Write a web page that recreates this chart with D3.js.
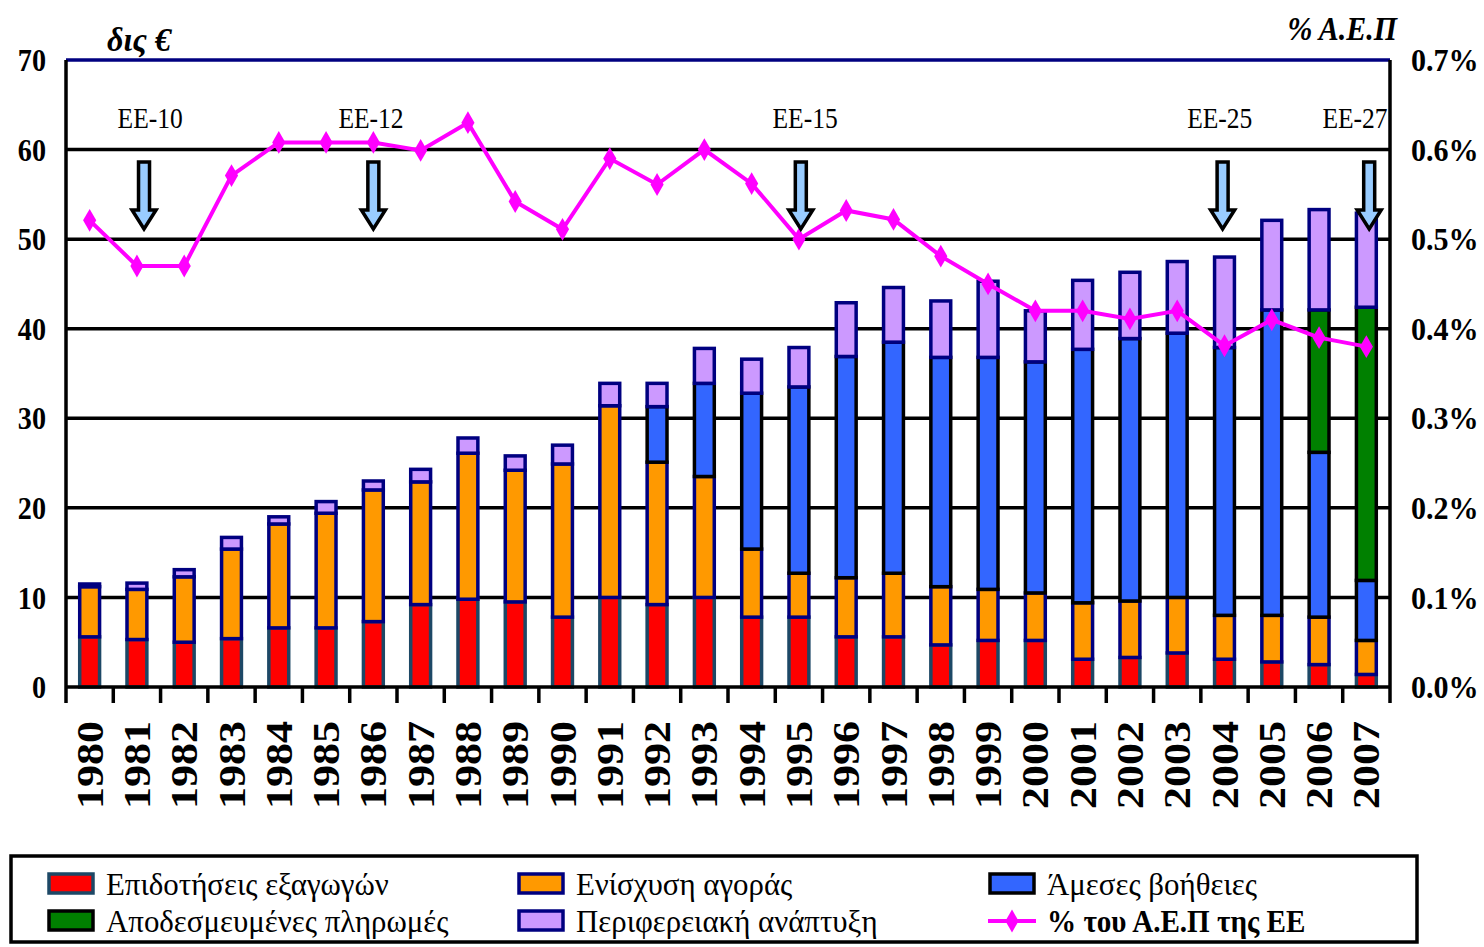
<!DOCTYPE html>
<html><head><meta charset="utf-8">
<script src="https://cdn.jsdelivr.net/npm/d3@7"></script>
<style>
html,body{margin:0;padding:0;background:#fff;}
svg{display:block;font-family:"Liberation Serif","Times New Roman",serif;}
</style></head>
<body>
<svg id="c" width="1484" height="947"></svg>
<script>
// ---- data ----
const years = ["1980","1981","1982","1983","1984","1985","1986","1987","1988","1989","1990","1991","1992","1993","1994","1995","1996","1997","1998","1999","2000","2001","2002","2003","2004","2005","2006","2007"];
const exportSubsidies = [5.6,5.3,5.0,5.4,6.6,6.6,7.3,9.2,9.8,9.5,7.8,10.0,9.2,10.0,7.8,7.8,5.6,5.6,4.7,5.2,5.2,3.1,3.3,3.8,3.1,2.8,2.5,1.4];
const marketSupport   = [5.6,5.6,7.3,10.0,11.6,12.8,14.7,13.7,16.3,14.7,17.1,21.4,15.9,13.5,7.6,4.9,6.6,7.1,6.5,5.7,5.3,6.3,6.3,6.2,4.9,5.2,5.3,3.8];
const directAid       = [0,0,0,0,0,0,0,0,0,0,0,0,6.2,10.4,17.4,20.8,24.7,25.8,25.6,25.9,25.8,28.3,29.3,29.5,29.9,34.1,18.4,6.7];
const decoupled       = [0,0,0,0,0,0,0,0,0,0,0,0,0,0,0,0,0,0,0,0,0,0,0,0,0,0,15.9,30.5];
const ruralDev        = [0.3,0.7,0.8,1.3,0.8,1.3,1.0,1.4,1.7,1.6,2.1,2.5,2.6,3.9,3.8,4.4,6.0,6.1,6.3,8.5,5.7,7.7,7.4,8.0,10.1,10.0,11.2,10.5];
const gdpShare        = [0.521,0.470,0.470,0.571,0.608,0.608,0.608,0.599,0.630,0.542,0.511,0.590,0.561,0.600,0.562,0.500,0.532,0.522,0.481,0.450,0.420,0.420,0.411,0.420,0.381,0.410,0.390,0.380];
const leftTicks  = [0,10,20,30,40,50,60,70];
const rightTicks = ["0.0%","0.1%","0.2%","0.3%","0.4%","0.5%","0.6%","0.7%"];
const enlargementLabels = ["ΕΕ-10","ΕΕ-12","ΕΕ-15","ΕΕ-25","ΕΕ-27"];
const enlargementYears  = ["1981","1986","1995","2004","2007"];
const seriesNames = ["Επιδοτήσεις εξαγωγών","Ενίσχυση αγοράς","Άμεσες βοήθειες","Αποδεσμευμένες πληρωμές","Περιφερειακή ανάπτυξη"];
const lineName = "% του Α.Ε.Π της ΕΕ";

// ---- styles / layout ----
const fills   = ["#FF0000","#FF9900","#3366FF","#008000","#CC99FF"];
const strokes = ["#1d4866","#000080","#000000","#000000","#000080"];
const arrowShift = [0.15,0.0,0.04,-0.04,0.06];
const labelShift = [0.28,-0.05,0.13,-0.10,-0.24];
const SX = 0.85;

const svg = d3.select("#c");
const L = 66, R = 1390, T = 60, B = 687;
const x = d3.scaleBand().domain(years).range([L,R]).paddingInner(0.58).paddingOuter(0.29);
const y = d3.scaleLinear().domain([0,70]).range([B,T]);
const y2 = d3.scaleLinear().domain([0,0.7]).range([B,T]);
const step = x.step();
const cx = d => x(d) + x.bandwidth()/2;

// gridlines
svg.append("g").selectAll("line").data(leftTicks.filter(t=>t>0 && t<70)).join("line")
  .attr("x1",L).attr("x2",R).attr("y1",d=>y(d)).attr("y2",d=>y(d))
  .attr("stroke","#000").attr("stroke-width",3.5);
svg.append("line").attr("x1",L).attr("x2",R).attr("y1",y(70)).attr("y2",y(70))
  .attr("stroke","#000080").attr("stroke-width",3.5);

// bars
const table = years.map((yr,i)=>({year:yr, s0:exportSubsidies[i], s1:marketSupport[i], s2:directAid[i], s3:decoupled[i], s4:ruralDev[i]}));
const stack = d3.stack().keys(["s0","s1","s2","s3","s4"])(table);
stack.forEach((layer,k)=>{
  svg.append("g").selectAll("rect").data(layer.filter(d=>d[1]-d[0]>0)).join("rect")
    .attr("x",d=>x(d.data.year)).attr("width",x.bandwidth())
    .attr("y",d=>y(d[1])).attr("height",d=>y(d[0])-y(d[1]))
    .attr("fill",fills[k]).attr("stroke",strokes[k]).attr("stroke-width",3.5);
});

// axes frame
svg.append("line").attr("x1",L).attr("x2",L).attr("y1",T).attr("y2",B+16).attr("stroke","#000").attr("stroke-width",3.5);
svg.append("line").attr("x1",R).attr("x2",R).attr("y1",T).attr("y2",B+16).attr("stroke","#000").attr("stroke-width",3.5);
svg.append("line").attr("x1",L).attr("x2",R).attr("y1",B).attr("y2",B).attr("stroke","#000").attr("stroke-width",3.5);
svg.append("g").selectAll("line").data(years.slice(1)).join("line")
  .attr("x1",d=>x(d)-step*0.29).attr("x2",d=>x(d)-step*0.29).attr("y1",B).attr("y2",B+16)
  .attr("stroke","#000").attr("stroke-width",3.5);

// tick labels
svg.append("g").selectAll("text").data(leftTicks).join("text")
  .attr("transform",d=>`translate(46,${y(d)}) scale(0.88,1)`)
  .attr("dy","0.35em").attr("text-anchor","end").attr("font-size",32).attr("font-weight","bold")
  .text(d=>d);
svg.append("g").selectAll("text").data(rightTicks).join("text")
  .attr("transform",(d,i)=>`translate(1411,${y(leftTicks[i])}) scale(0.94,1)`)
  .attr("dy","0.35em").attr("text-anchor","start").attr("font-size",32).attr("font-weight","bold")
  .text(d=>d);
svg.append("g").selectAll("text").data(years).join("text")
  .attr("transform",d=>`translate(${cx(d)},721) scale(${SX},1) rotate(-90)`)
  .attr("dy","0.35em").attr("text-anchor","end").attr("font-size",44).attr("font-weight","bold")
  .text(d=>d);

// axis titles
svg.append("text").attr("transform",`translate(107,51) scale(0.95,1)`).attr("font-size",34)
  .attr("font-style","italic").attr("font-weight","bold").text("δις €");
svg.append("text").attr("transform",`translate(1397,40) scale(0.88,1)`).attr("font-size",34)
  .attr("text-anchor","end").attr("font-style","italic").attr("font-weight","bold").text("% Α.Ε.Π");

// % GDP line
const line = d3.line().x((d,i)=>cx(years[i])).y(d=>y2(d));
svg.append("path").datum(gdpShare).attr("d",line).attr("fill","none")
  .attr("stroke","#FF00FF").attr("stroke-width",4);
svg.append("g").selectAll("path").data(gdpShare).join("path")
  .attr("transform",(d,i)=>`translate(${cx(years[i])},${y2(d)})`)
  .attr("d",d3.symbol(d3.symbolDiamond,150)()).attr("fill","#FF00FF");

// enlargement annotations
const arrowPath = "M-5.5,0 L5.5,0 L5.5,48 L12,48 L0,67 L-12,48 L-5.5,48 Z";
enlargementYears.forEach((yr,i)=>{
  const ax = cx(yr) + arrowShift[i]*step;
  svg.append("path").attr("d",arrowPath).attr("transform",`translate(${ax},162)`)
    .attr("fill","#99CCFF").attr("stroke","#000").attr("stroke-width",3.5).attr("stroke-linejoin","miter");
  svg.append("text").attr("transform",`translate(${cx(yr)+labelShift[i]*step},128) scale(${SX},1)`)
    .attr("text-anchor","middle").attr("font-size",30).text(enlargementLabels[i]);
});

// legend
svg.append("rect").attr("x",11).attr("y",856).attr("width",1406).attr("height",86)
  .attr("fill","#fff").attr("stroke","#000").attr("stroke-width",3.5);
const legendItems = [
  {name:seriesNames[0], k:0, col:0, row:0},
  {name:seriesNames[1], k:1, col:1, row:0},
  {name:seriesNames[2], k:2, col:2, row:0},
  {name:seriesNames[3], k:3, col:0, row:1},
  {name:seriesNames[4], k:4, col:1, row:1},
  {name:lineName, k:-1, col:2, row:1}
];
const colX = [47,517,988], rowY = [884,921];
legendItems.forEach(it=>{
  const gx = colX[it.col], gy = rowY[it.row];
  if(it.k>=0){
    svg.append("rect").attr("x",gx+2).attr("y",gy-10).attr("width",44).attr("height",19)
      .attr("fill",fills[it.k]).attr("stroke",strokes[it.k]).attr("stroke-width",3.5);
  } else {
    svg.append("line").attr("x1",gx).attr("x2",gx+48).attr("y1",gy).attr("y2",gy)
      .attr("stroke","#FF00FF").attr("stroke-width",4);
    svg.append("path").attr("transform",`translate(${gx+24},${gy})`)
      .attr("d",d3.symbol(d3.symbolDiamond,150)()).attr("fill","#FF00FF");
  }
  svg.append("text").attr("transform",`translate(${gx+59},${gy}) scale(${it.k<0?0.91:0.965},1)`)
    .attr("dy","0.35em").attr("font-size",32).attr("font-weight", it.k<0?"bold":"normal").text(it.name);
});
</script>
</body></html>
